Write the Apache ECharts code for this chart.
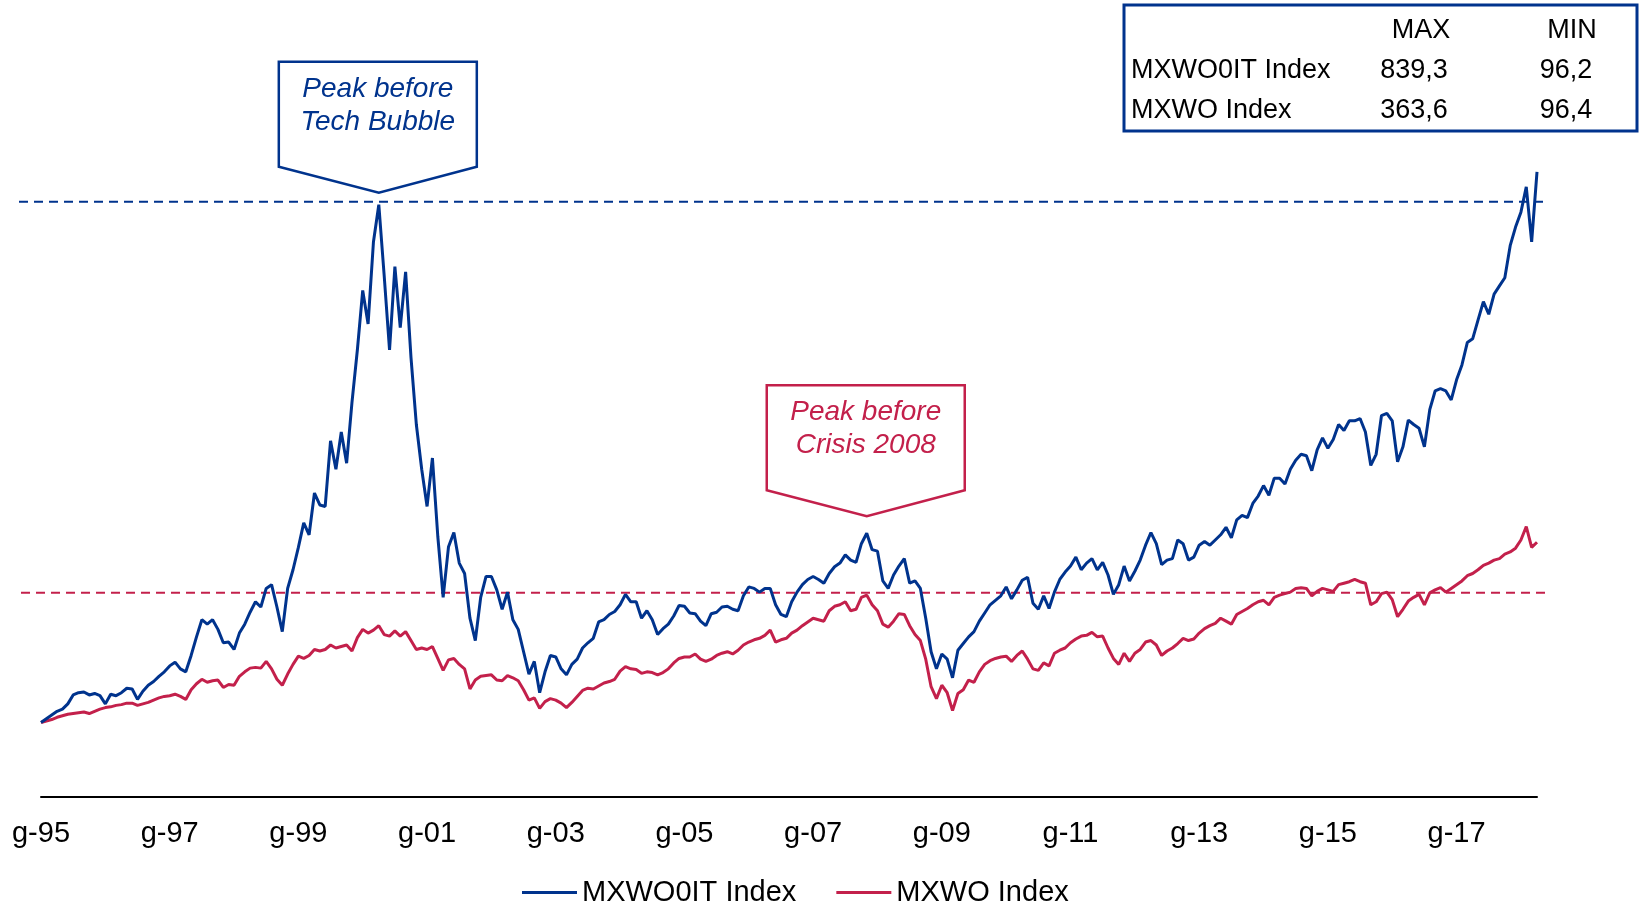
<!DOCTYPE html>
<html>
<head>
<meta charset="utf-8">
<script src="https://cdn.jsdelivr.net/npm/echarts@6.0.0/dist/echarts.min.js"></script>
<style>
    html, body { margin: 0; padding: 0; background: #fff; }
    #chart { width: 1645px; height: 902px; }
</style>
</head>
<body>
<div id="chart"></div>
<script>
    // iniziali dei mesi (formato Excel mmmmm-aa)
    const monthLetters = ['g', 'f', 'm', 'a', 'm', 'g', 'l', 'a', 's', 'o', 'n', 'd'];
    const firstYear = 1995;

    // MXWO0IT Index, base 100 = gen-95, un valore al mese
    const itValues = [
        100, 105, 110, 115, 118, 125, 137, 140, 141, 137, 139, 136,
        125, 138, 136, 140, 146, 145, 131, 142, 150, 155, 162, 168,
        176, 181, 172, 168, 190, 215, 238, 232, 238, 225, 207, 208,
        198, 220, 232, 248, 262, 255, 280, 285, 255, 222, 280, 305,
        335, 368, 352, 408, 392, 390, 478, 440, 490, 448, 530, 600,
        680, 635, 745, 795, 700, 600, 712, 630, 705, 590, 500, 440,
        390, 455, 350, 268, 336, 355, 314, 300, 240, 210, 268, 296,
        296, 278, 252, 275, 238, 225, 195, 165, 182, 140, 168, 190,
        188, 172, 164, 178, 185, 200, 207, 213, 235, 238, 245, 249,
        258, 272, 262, 262, 240, 250, 238, 218, 226, 232, 243, 257,
        256, 247, 246, 236, 230, 246, 248, 255, 256, 252, 250, 270,
        282, 280, 275, 280, 280, 258, 245, 242, 262, 275, 285, 292,
        296, 292, 287, 300, 309, 314, 325, 318, 315, 340, 354, 332,
        330, 290, 280, 298, 310, 320, 287, 290, 280, 240, 195, 172,
        192, 185, 160, 197, 206, 215, 222, 236, 247, 258, 264, 270,
        282, 266, 278, 291, 295, 260, 252, 270, 253, 275, 292, 302,
        310, 322, 305, 314, 320, 305, 315, 298, 272, 285, 310, 290,
        303, 318, 338, 355, 340, 312, 318, 320, 345, 340, 318, 322,
        338, 343, 338, 345, 352, 362, 348, 372, 378, 375, 394, 404,
        418, 405, 428, 428, 420, 440, 452, 460, 458, 438, 466, 482,
        468, 480, 500, 492, 505, 505, 508, 490, 445, 460, 512, 515,
        505, 450, 470, 506, 500, 495, 470, 520, 545, 548, 545, 533,
        560, 580, 610, 615, 640, 665, 648, 675, 686, 697, 740, 765,
        785, 819, 745, 839
    ];

    // MXWO Index, base 100 = gen-95
    const woValues = [
        100, 102, 104, 107, 109, 111, 112, 113, 114, 112, 115, 118,
        120, 121, 123, 124, 126, 126, 123, 125, 127, 130, 133, 135,
        136, 138, 135, 131, 144, 152, 158, 154, 156, 157, 147, 151,
        150, 162, 168, 173, 174, 173, 182, 172, 158, 150, 165, 178,
        189, 186, 190, 198, 196, 198, 204, 200, 202, 204, 196, 214,
        225, 220, 224, 230, 218, 216, 223, 216, 222, 210, 198, 200,
        198, 202, 186, 170, 184, 186, 178, 172, 145, 157, 162, 163,
        164, 157, 156, 163, 160, 156, 144, 130, 133, 119, 128, 132,
        130, 126, 120, 127, 135, 143, 146, 145, 149, 153, 155, 158,
        169, 175, 172, 171, 166, 168, 167, 164, 167, 172, 180, 186,
        188, 188, 192, 185, 182, 185, 190, 193, 195, 192, 197, 204,
        208, 211, 213, 217, 224, 208, 211, 213, 220, 224, 230, 235,
        240, 238, 236, 250, 256, 258, 262, 250, 252, 268, 271, 258,
        250, 232, 228, 236, 246, 245, 230, 218, 210, 185, 148, 132,
        150, 140, 116, 139, 144, 157, 154, 168, 178, 183, 186, 188,
        189, 182, 190, 196, 185, 172, 170, 180, 176, 193, 197, 200,
        207, 212, 216, 217, 221, 215, 216, 200, 186, 178, 193, 182,
        193, 198, 208, 210, 204, 190, 196, 200, 206, 213, 210, 212,
        220, 226, 230, 233, 240, 236, 232, 245, 249, 253, 258, 262,
        264, 258, 268, 271, 273, 275, 280, 281, 280, 270, 276, 280,
        278, 276, 285, 287, 289, 292, 289, 287, 258, 262, 273, 275,
        265, 242, 252, 263, 268, 272, 258, 274, 278, 281, 275, 280,
        285, 290, 297, 300, 305, 311, 314, 318, 320, 326, 329, 334,
        345, 363, 335, 342
    ];

    // livelli tratteggiati
    const techPeak = 799;
    const crisisPeak = 274;

    // tabella MAX / MIN
    const tableHeader = ['MAX', 'MIN'];
    const tableNames = ['MXWO0IT Index', 'MXWO Index'];
    const tableMax = ['839,3', '363,6'];
    const tableMin = ['96,2', '96,4'];

    const BLUE = '#00338D';
    const RED = '#C3204B';
    const FONT = "'Liberation Sans', Arial, sans-serif";

    const categories = itValues.map((v, i) =>
        monthLetters[i % 12] + '-' + String((firstYear + Math.floor(i / 12)) % 100).padStart(2, '0'));

    const chart = echarts.init(document.getElementById('chart'));
    chart.setOption({
        animation: false,
        grid: { left: 41, right: 108, top: 52, bottom: 105 },
        legend: {
            data: ['MXWO0IT Index', 'MXWO Index'],
            left: 517,
            top: 873,
            icon: 'rect',
            itemWidth: 55,
            itemHeight: 3,
            itemGap: 40,
            textStyle: { fontSize: 29, color: '#000', fontFamily: FONT }
        },
        xAxis: {
            type: 'category',
            data: categories,
            boundaryGap: false,
            axisLine: { lineStyle: { color: '#000', width: 2 } },
            axisTick: { show: false },
            axisLabel: {
                interval: (i) => i % 24 === 0,
                margin: 22,
                fontSize: 29,
                color: '#000',
                fontFamily: FONT
            },
            splitLine: { show: false }
        },
        yAxis: { type: 'value', min: 0, max: 1000, show: false },
        series: [
            {
                name: 'MXWO0IT Index',
                type: 'line',
                data: itValues,
                showSymbol: false,
                lineStyle: { color: BLUE, width: 3 },
                itemStyle: { color: BLUE },
                z: 4
            },
            {
                name: 'MXWO Index',
                type: 'line',
                data: woValues,
                showSymbol: false,
                lineStyle: { color: RED, width: 3 },
                itemStyle: { color: RED },
                z: 3
            }
        ]
    });

    const px = (i, v) => chart.convertToPixel({ gridIndex: 0 }, [i, v]);
    const xStart = px(0, 0)[0];
    const xEnd = px(itValues.length - 1, 0)[0];
    const yTech = px(0, techPeak)[1];
    const yCrisis = px(0, crisisPeak)[1];

    // picchi per i box
    const techIdx = itValues.indexOf(Math.max(...itValues.slice(0, 96)));
    const crisisIdx = 144 + woValues.slice(144, 156).indexOf(Math.max(...woValues.slice(144, 156)));

    function callout(tip, color, lines) {
        const [tx, ty] = tip;
        return [
            {
                type: 'polygon',
                z: 10,
                shape: { points: [[tx - 100, ty - 131], [tx + 98, ty - 131], [tx + 98, ty - 26], [tx, ty], [tx - 100, ty - 26]] },
                style: { fill: '#fff', stroke: color, lineWidth: 2.5 }
            },
            ...lines.map((t, k) => ({
                type: 'text',
                z: 11,
                x: tx - 1,
                y: ty - 104 + k * 33,
                style: {
                    text: t, fill: color, font: `italic 28px ${FONT}`,
                    align: 'center', verticalAlign: 'middle',
                    textAlign: 'center', textVerticalAlign: 'middle'
                }
            }))
        ];
    }

    function textEl(t, x, y, align) {
        return {
            type: 'text', z: 11, x, y,
            style: {
                text: t, fill: '#000', font: `27px ${FONT}`,
                align, verticalAlign: 'middle', textAlign: align, textVerticalAlign: 'middle'
            }
        };
    }

    const techTip = [px(techIdx, 0)[0], yTech - 9];
    const crisisTip = [px(crisisIdx, 0)[0], px(crisisIdx, itValues[crisisIdx])[1] - 17];

    const graphic = [
        {
            type: 'line', z: 1,
            shape: { x1: xStart - 22, y1: yTech, x2: xEnd + 8, y2: yTech },
            style: { stroke: BLUE, lineWidth: 2, lineDash: [9, 6] }
        },
        {
            type: 'line', z: 1,
            shape: { x1: xStart - 20, y1: yCrisis, x2: xEnd + 12, y2: yCrisis },
            style: { stroke: RED, lineWidth: 2, lineDash: [9, 6] }
        },
        ...callout(techTip, BLUE, ['Peak before', 'Tech Bubble']),
        ...callout(crisisTip, RED, ['Peak before', 'Crisis 2008']),
        {
            type: 'rect', z: 10,
            shape: { x: 1124, y: 5, width: 513, height: 126 },
            style: { fill: '#fff', stroke: BLUE, lineWidth: 3 }
        },
        textEl(tableHeader[0], 1421, 31, 'center'),
        textEl(tableHeader[1], 1572, 31, 'center'),
        ...tableNames.map((n, k) => textEl(n, 1131, 71 + k * 40, 'left')),
        ...tableMax.map((n, k) => textEl(n, 1414, 71 + k * 40, 'center')),
        ...tableMin.map((n, k) => textEl(n, 1566, 71 + k * 40, 'center'))
    ];
    chart.setOption({ graphic });
</script>
</body>
</html>
